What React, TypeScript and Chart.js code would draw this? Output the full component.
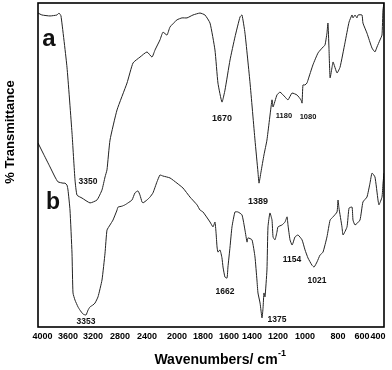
import React, { useEffect, useRef } from 'react';
import { Chart, LinearScale, registerables } from 'chart.js';

// ---- Data: curve a (top spectrum) ----
const waveA = [4071, 4008, 3882, 3773, 3741, 3710, 3616, 3536, 3488, 3456, 3376, 3248, 3141, 3067, 3022, 2993, 2948, 2844, 2696, 2607, 2504, 2400, 2333, 2293, 2227, 2187, 2133, 2093, 2000, 1962, 1923, 1877, 1823, 1785, 1746, 1708, 1685, 1654, 1631, 1591, 1548, 1504, 1487, 1461, 1417, 1377, 1354, 1346, 1331, 1308, 1285, 1246, 1238, 1208, 1185, 1148, 1126, 1096, 1059, 1030, 1022, 1015, 1000, 988, 982, 952, 921, 891, 879, 867, 861, 855, 848, 836, 830, 806, 783, 742, 708, 683, 675, 658, 642, 633, 600, 588, 538, 475, 438, 413, 375, 350, 338, 325];
const transA = [96.9, 96.3, 96.0, 96.3, 96.9, 96.0, 80.2, 59.9, 45.4, 40.7, 39.8, 38.3, 39.2, 42.3, 46.3, 48.5, 57.7, 67.0, 75.3, 81.5, 83.3, 84.9, 83.3, 85.5, 88.6, 91.0, 90.1, 92.6, 94.8, 95.4, 95.4, 96.3, 96.9, 96.3, 93.8, 85.5, 75.3, 69.4, 73.1, 82.4, 89.5, 95.7, 96.3, 90.7, 75.3, 57.7, 47.8, 44.4, 47.8, 53.1, 57.7, 70.1, 67.9, 71.6, 72.5, 71.0, 70.1, 72.2, 71.6, 70.1, 69.1, 74.7, 74.7, 75.3, 76.2, 80.9, 84.6, 86.4, 87.0, 90.7, 93.8, 86.4, 76.9, 80.2, 81.8, 78.4, 80.2, 87.7, 94.1, 96.3, 95.4, 96.3, 95.4, 96.3, 96.3, 93.8, 90.7, 86.1, 84.9, 86.4, 88.6, 90.1, 97.8, 100];

// ---- Data: curve b (bottom spectrum) ----
const waveB = [4071, 3992, 3882, 3804, 3757, 3678, 3647, 3616, 3600, 3568, 3536, 3520, 3488, 3440, 3408, 3360, 3312, 3280, 3248, 3200, 3170, 3126, 3067, 3022, 2993, 2948, 2904, 2844, 2830, 2770, 2726, 2681, 2622, 2578, 2533, 2504, 2474, 2459, 2400, 2360, 2320, 2267, 2227, 2187, 2093, 2000, 1954, 1900, 1846, 1823, 1800, 1746, 1723, 1708, 1700, 1692, 1685, 1669, 1654, 1646, 1631, 1615, 1608, 1591, 1574, 1548, 1522, 1487, 1461, 1443, 1435, 1400, 1377, 1362, 1354, 1338, 1323, 1315, 1308, 1300, 1285, 1277, 1262, 1246, 1238, 1223, 1208, 1200, 1170, 1148, 1133, 1126, 1111, 1096, 1089, 1074, 1052, 1022, 1000, 982, 958, 945, 927, 909, 891, 867, 848, 830, 806, 800, 792, 767, 758, 725, 708, 683, 675, 658, 617, 588, 538, 500, 475, 438, 400, 388, 350, 338, 325];
const transB = [56.8, 53.7, 49.4, 46.3, 44.8, 44.4, 44.4, 43.8, 42.3, 36.1, 22.8, 10.5, 8.3, 6.2, 5.2, 4.0, 3.7, 5.2, 6.2, 6.8, 7.4, 9.3, 14.5, 22.8, 29.9, 31.5, 33.0, 36.1, 37.0, 37.3, 37.7, 38.3, 39.2, 41.4, 42.0, 40.7, 38.6, 38.3, 39.2, 40.1, 41.4, 44.8, 46.9, 46.6, 46.0, 44.4, 42.9, 40.1, 37.7, 36.1, 35.5, 32.4, 30.9, 32.4, 29.3, 24.7, 23.1, 23.8, 21.3, 18.5, 15.4, 15.1, 18.5, 24.7, 30.9, 35.5, 35.5, 34.6, 29.9, 26.2, 27.5, 26.9, 21.6, 14.5, 10.5, 7.4, 2.8, 5.9, 10.5, 9.3, 17.6, 30.9, 35.2, 33.0, 27.8, 26.9, 29.3, 30.9, 31.5, 32.4, 34.0, 31.5, 26.9, 25.3, 25.9, 27.8, 28.4, 26.9, 23.8, 21.3, 19.1, 18.5, 20.1, 22.2, 23.1, 27.8, 33.0, 34.0, 35.5, 39.2, 36.7, 30.9, 28.4, 30.9, 36.7, 37.0, 33.0, 31.5, 33.0, 38.6, 40.1, 44.4, 47.5, 46.3, 39.2, 37.7, 40.1, 44.1, 47.5];

// ---- Axis tick labels ----
const tickValues = [4000, 3600, 3200, 2800, 2400, 2000, 1800, 1600, 1400, 1200, 1000, 800, 600, 400];

// ---- Peak labels ----
const peakTextA = ['3350', '1670', '1389', '1180', '1080'];
const peakWaveA = [3280, 1654, 1354, 1156, 982];
const peakTransA = [44.8, 64.5, 38.6, 65.1, 64.8];
const peakTextB = ['3353', '1662', '1375', '1154', '1021'];
const peakWaveB = [3312, 1631, 1208, 1096, 927];
const peakTransB = [1.5, 10.8, 2.2, 20.7, 14.2];

// Non-linear (hand-drawn) wavenumber axis: knots of value -> fraction of axis width
const AXIS_VALUES = [4071, 4000, 3600, 3200, 2800, 2400, 2000, 1800, 1600, 1400, 1200, 1000, 800, 600, 325];
const AXIS_FRACTIONS = [0, 0.013, 0.0867, 0.159, 0.237, 0.315, 0.4017, 0.4769, 0.552, 0.6185, 0.6936, 0.7717, 0.8671, 0.9364, 1];

function interp(x: number, xs: number[], ys: number[]): number {
  const n = xs.length;
  const inc = xs[n - 1] > xs[0];
  for (let i = 0; i < n - 1; i++) {
    const a = xs[i];
    const b = xs[i + 1];
    const inSeg = inc ? x >= a && x <= b : x <= a && x >= b;
    if (inSeg) return ys[i] + ((x - a) / (b - a)) * (ys[i + 1] - ys[i]);
  }
  const before = inc ? x < xs[0] : x > xs[0];
  const i = before ? 0 : n - 2;
  return ys[i] + ((x - xs[i]) / (xs[i + 1] - xs[i])) * (ys[i + 1] - ys[i]);
}

class SpectrumScale extends LinearScale {
  static id = 'spectrum';
  static defaults = LinearScale.defaults;
  getPixelForValue(value: number) {
    return this.left + interp(value, AXIS_VALUES, AXIS_FRACTIONS) * this.width;
  }
  getValueForPixel(pixel: number) {
    return interp((pixel - this.left) / this.width, AXIS_FRACTIONS, AXIS_VALUES);
  }
}

Chart.register(...registerables, SpectrumScale as any);

const FONT = "'Liberation Sans', Arial, Helvetica, sans-serif";

const decorPlugin = {
  id: 'decor',
  afterDraw(chart: any) {
    const { ctx, chartArea, scales } = chart;
    const xs = scales.x;
    const ys = scales.y;
    ctx.save();
    // frame
    ctx.strokeStyle = '#000';
    ctx.lineWidth = 1.6;
    ctx.strokeRect(chartArea.left, chartArea.top, chartArea.right - chartArea.left, chartArea.bottom - chartArea.top);

    ctx.fillStyle = '#111';
    ctx.textAlign = 'center';
    ctx.textBaseline = 'middle';
    // peak labels
    const drawPeaks = (texts: string[], w: number[], t: number[], sizes: number[]) => {
      texts.forEach((s, i) => {
        ctx.font = `bold ${sizes[i]}px ${FONT}`;
        ctx.fillText(s, xs.getPixelForValue(w[i]), ys.getPixelForValue(t[i]));
      });
    };
    drawPeaks(peakTextA, peakWaveA, peakTransA, [8.5, 9, 9, 7.5, 7.5]);
    drawPeaks(peakTextB, peakWaveB, peakTransB, [8.5, 8.5, 8.5, 8.5, 8.5]);

    // curve letters
    ctx.font = `bold 24px ${FONT}`;
    ctx.fillText('a', xs.getPixelForValue(3898), ys.getPixelForValue(88.9));
    ctx.font = `bold 23px ${FONT}`;
    ctx.fillText('b', xs.getPixelForValue(3835), ys.getPixelForValue(38.3));

    // x axis title
    const main = 'Wavenumbers/ cm';
    const sup = '-1';
    ctx.font = `bold 14px ${FONT}`;
    const wMain = ctx.measureText(main).width;
    ctx.font = `bold 9px ${FONT}`;
    const wSup = ctx.measureText(sup).width;
    const cx = 220;
    const startX = cx - (wMain + wSup) / 2;
    ctx.textAlign = 'left';
    ctx.font = `bold 14px ${FONT}`;
    ctx.fillStyle = '#000';
    ctx.fillText(main, startX, 360);
    ctx.font = `bold 9px ${FONT}`;
    ctx.fillText(sup, startX + wMain + 0.5, 354);

    // y axis title
    ctx.translate(10, 132);
    ctx.rotate(-Math.PI / 2);
    ctx.textAlign = 'center';
    ctx.font = `bold 13px ${FONT}`;
    ctx.fillText('% Transmittance', 0, 0);
    ctx.restore();
  },
};

export default function App() {
  const ref = useRef<HTMLCanvasElement | null>(null);
  useEffect(() => {
    if (!ref.current) return;
    const chart = new Chart(ref.current, {
      type: 'line',
      data: {
        datasets: [
          {
            label: 'a',
            data: waveA.map((w, i) => ({ x: w, y: transA[i] })),
            borderColor: '#222',
            borderWidth: 1,
            pointRadius: 0,
            tension: 0.15,
            fill: false,
          },
          {
            label: 'b',
            data: waveB.map((w, i) => ({ x: w, y: transB[i] })),
            borderColor: '#222',
            borderWidth: 1,
            pointRadius: 0,
            tension: 0.15,
            fill: false,
          },
        ],
      },
      options: {
        animation: false,
        responsive: false,
        events: [],
        layout: { padding: { left: 38, top: 3, right: 8, bottom: 0 } },
        plugins: { legend: { display: false }, tooltip: { enabled: false } },
        scales: {
          x: {
            type: 'spectrum' as any,
            min: 325,
            max: 4071,
            grid: { display: false, drawTicks: false },
            border: { display: false },
            afterBuildTicks: (s: any) => {
              s.ticks = tickValues.map((v) => ({ value: v }));
            },
            afterFit: (s: any) => {
              s.height = 43;
            },
            ticks: {
              autoSkip: false,
              maxRotation: 0,
              minRotation: 0,
              padding: 4,
              color: '#000',
              font: { family: FONT, size: 9, weight: 'bold' },
              callback: (v: any) => String(v),
            },
          } as any,
          y: { type: 'linear', display: false, min: 0, max: 100 },
        },
      },
      plugins: [decorPlugin],
    } as any);
    return () => chart.destroy();
  }, []);
  return (
    <div style={{ position: 'fixed', left: 0, top: 0, width: 392, height: 370, background: '#fff' }}>
      <canvas ref={ref} width={392} height={370} style={{ display: 'block', width: 392, height: 370 }} />
    </div>
  );
}
